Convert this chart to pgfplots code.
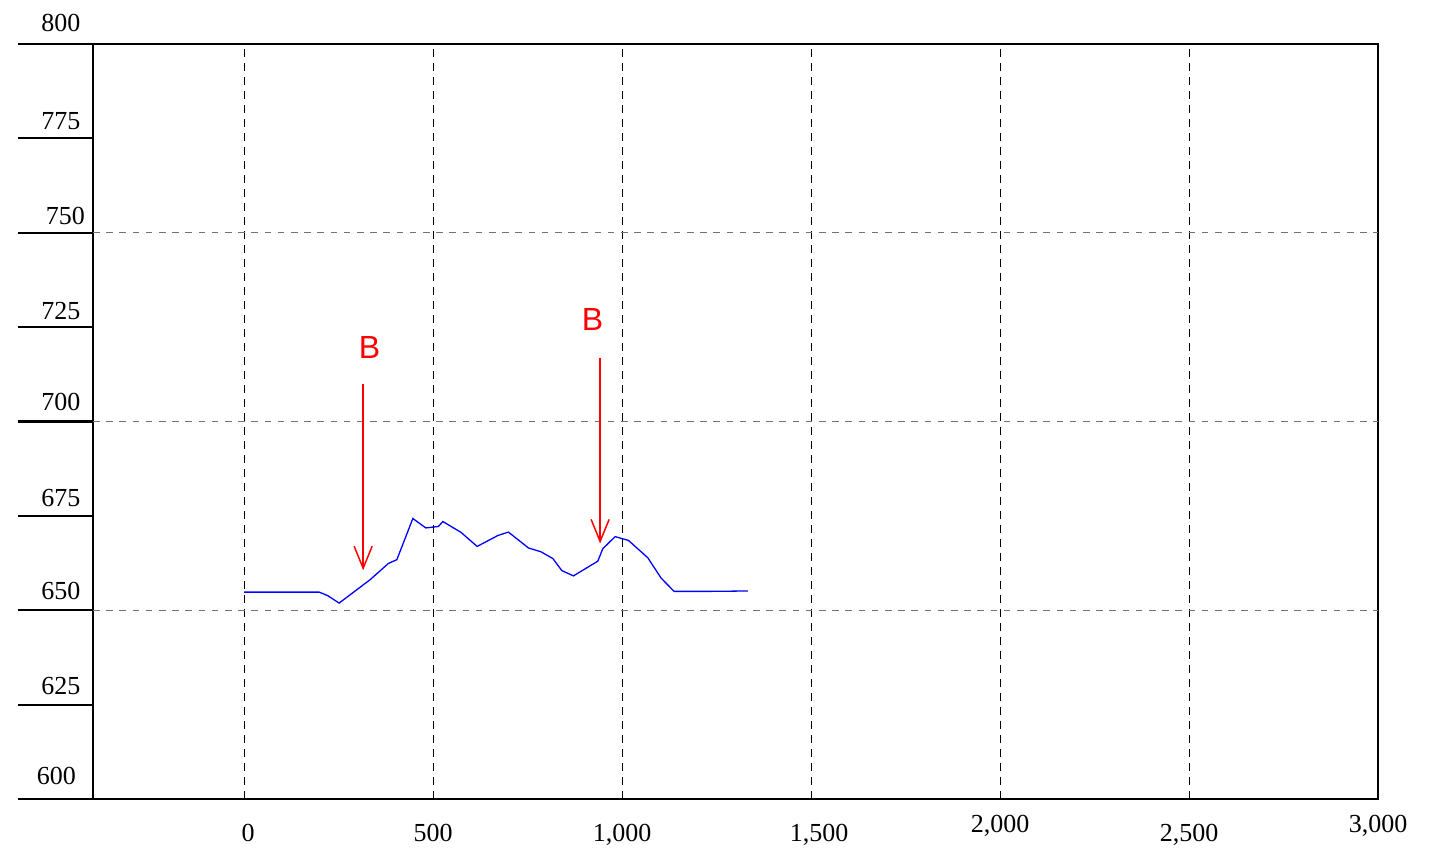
\documentclass[border=0pt]{standalone}
\usepackage{pgfplots}
\pgfplotsset{compat=1.18}
\usepackage{fontspec}
\setmainfont{Liberation Serif}
\newfontfamily\arialfont{Liberation Sans}
\usetikzlibrary{arrows.meta}

\begin{document}
\begin{tikzpicture}
\useasboundingbox (-46.5pt,-33pt) rectangle (668.5pt,399.5pt);
\begin{axis}[
    at={(0pt,0pt)}, anchor=south west,
    scale only axis,
    width=642.5pt, height=377.5pt,
    xmin=-400, xmax=3000,
    ymin=600, ymax=800,
    axis line style={line width=1.1pt},
    tick label style={font=\fontsize{13}{13}\selectfont},
    every tick/.style={black, line width=1.1pt},
    xtick={0,500,1000,1500,2000,2500,3000},
    xticklabels={{\hspace*{4pt}0}, {500}, {1,000}, {\hspace*{8pt}1,500}, {\raisebox{4.25pt}{2,000}}, {2,500}, {\raisebox{4.25pt}{3,000}}},
    xtick pos=left, xtick align=inside,
    xtick style={/pgfplots/major tick length=1.5pt, black, line width=0.4pt},
    xticklabel style={anchor=base, inner sep=0pt, yshift=-21.25pt},
    ytick={600,625,650,675,700,725,750,775,800},
    yticklabels={{\raisebox{2.5pt}{600}\hspace*{2.35pt}}, {\raisebox{0.35pt}{625}}, {\raisebox{0.85pt}{650}}, {675}, {\raisebox{1pt}{700}}, {\raisebox{-0.5pt}{725}}, {\raisebox{-0.5pt}{750}\hspace*{-2.15pt}}, {775}, {\raisebox{1.65pt}{800}}},
    ytick pos=left, ytick align=outside,
    ytick style={/pgfplots/major tick length=37.5pt, black, line width=1.1pt},
    yticklabel style={anchor=base east, inner sep=0pt, xshift=-1.8pt, yshift=4.5pt},
    xmajorgrids=true,
    major grid style={black, line width=0.5pt, dash pattern=on 4pt off 3pt},
    extra y ticks={650,700,750},
    extra y tick labels={},
    extra y tick style={grid=major, major grid style={black!55, line width=0.6pt, dash pattern=on 3.3pt off 3.3pt}},
]
\addplot[blue, line width=0.65pt, mark=none] coordinates {
(0,654.8) (97.9,654.8) (198.4,654.8) (220.4,653.9) (251.3,651.9)
(333.3,658.1) (381.7,662.4) (404,663.4) (446.3,674.3) (480.7,671.8)
(514,672.2) (525.7,673.5) (574.1,670.6) (616.4,666.9) (671.2,669.8)
(699.2,670.7) (752.1,666.5) (784.9,665.5) (816.7,663.7) (840.5,660.5)
(871.2,659.1) (935.7,663.0) (948.9,666.3) (981.5,669.5) (1016.7,668.5)
(1068,663.9) (1103.2,658.5) (1137.6,655.0) (1232.8,655.0) (1332.5,655.1)
};
\draw[red, line width=0.75pt, -{Straight Barb[length=11pt,width=9pt]}] (axis cs:314.8,710.05) -- (axis cs:314.8,660.6);
\draw[red, line width=0.75pt, -{Straight Barb[length=11pt,width=9pt]}] (axis cs:941.8,716.9) -- (axis cs:941.8,667.7);
\node[text=red, font=\arialfont\fontsize{16}{16}\selectfont, inner sep=0pt] at (axis cs:332,719.7) {B};
\node[text=red, font=\arialfont\fontsize{16}{16}\selectfont, inner sep=0pt] at (axis cs:922,727) {B};
\end{axis}
\end{tikzpicture}
\end{document}
